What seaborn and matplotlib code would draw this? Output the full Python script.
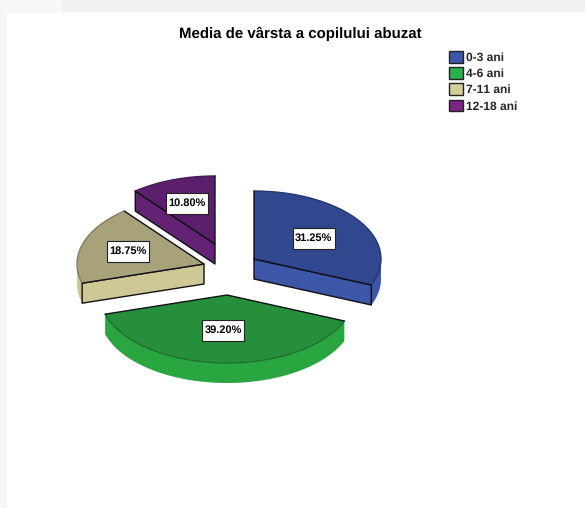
import numpy as np
import matplotlib
matplotlib.use("Agg")
import matplotlib.pyplot as plt
from matplotlib.patches import Polygon, Patch, Rectangle
import seaborn as sns

# Age groups and their shares of abused children
age_groups = ["0-3 ani", "4-6 ani", "7-11 ani", "12-18 ani"]
shares = [31.25, 39.20, 18.75, 10.80]
share_labels = ["31.25%", "39.20%", "18.75%", "10.80%"]
chart_title = "Media de vârsta a copilului abuzat"

# Colours: legend swatch, extruded wall, then the darker top surface
swatch_colors = sns.color_palette(["#3d56a8", "#2ab04a", "#d6cf97", "#7a2585"])
wall_colors = sns.color_palette(["#3d56a8", "#2aa641", "#cfc894", "#642274"])
top_colors = sns.color_palette(["#31478f", "#268f3c", "#a8a27b", "#5c1f6d"])

# Layout, in pixels: exploded slice apexes, ellipse radii, extrusion, label anchors
apexes = [(254, 259), (227, 295), (204, 264), (215, 244)]
RX, RY, DEPTH = 127, 68, 20
label_xy = [(313.5, 238), (223, 330), (127.5, 251), (187, 203)]
LABEL_W, LABEL_H = 42, 21

sns.set_theme(style="white")
plt.rcParams["font.family"] = ["Liberation Sans", "DejaVu Sans"]
plt.rcParams["text.hinting"] = "none"
plt.rcParams["text.hinting_factor"] = 1

fig = plt.figure(figsize=(5.85, 5.08), dpi=100, facecolor="white")
ax = fig.add_axes([0, 0, 1, 1])
ax.set_xlim(0, 585)
ax.set_ylim(508, 0)
ax.axis("off")

# Pale frame along the top and left edges of the page
ax.add_patch(Rectangle((62, 0), 523, 12, fc="#f1f1f1", ec="none", zorder=0))
ax.add_patch(Rectangle((0, 0), 62, 13, fc="#f8f8f8", ec="none", zorder=0))
ax.add_patch(Rectangle((0, 13), 7, 495, fc="#f6f6f6", ec="none", zorder=0))


def rim(apex, a0, a1):
    """Points on the slice's outer arc; angles run clockwise from 12 o'clock."""
    th = np.radians(np.linspace(a0, a1, max(int(abs(a1 - a0)) * 2, 2)))
    return np.column_stack([apex[0] + RX * np.sin(th), apex[1] - RY * np.cos(th)])


def radial_wall(apex, angle, color, z):
    p = rim(apex, angle, angle)[0]
    ax.add_patch(Polygon(
        [apex, p, (p[0], p[1] + DEPTH), (apex[0], apex[1] + DEPTH)],
        fc=color, ec="#101018", lw=1.0, joinstyle="round", zorder=z))


edges = np.concatenate([[0], np.cumsum(shares)]) / sum(shares) * 360
for i, (a0, a1) in enumerate(zip(edges[:-1], edges[1:])):
    apex = apexes[i]
    z = 2 + i * 0.01

    # Outer wall, only where the rim faces the viewer
    f0, f1 = max(a0, 90), min(a1, 270)
    if f1 > f0:
        arc = rim(apex, f0, f1)
        wall = np.vstack([arc, arc[::-1] + [0, DEPTH]])
        ax.add_patch(Polygon(wall, fc=wall_colors[i], ec="none", zorder=z))

    # Cut faces turned towards the viewer
    if np.sin(np.radians(a0)) < -1e-6:
        radial_wall(apex, a0, wall_colors[i], z)
    if np.sin(np.radians(a1)) > 1e-6:
        radial_wall(apex, a1, wall_colors[i], z)

    # Top surface, with a soft dark arc and black radial edges
    arc = rim(apex, a0, a1)
    ax.add_patch(Polygon(np.vstack([[apex], arc]), fc=top_colors[i],
                         ec="none", zorder=z + 0.1))
    ax.plot(arc[:, 0], arc[:, 1], color=tuple(c * 0.78 for c in top_colors[i]),
            lw=1.0, zorder=z + 0.2)
    ax.plot([arc[0, 0], apex[0], arc[-1, 0]], [arc[0, 1], apex[1], arc[-1, 1]],
            color="#101018", lw=1.0, zorder=z + 0.2)

# Percentage labels in white boxes
for (x, y), txt in zip(label_xy, share_labels):
    ax.add_patch(Rectangle((x - LABEL_W / 2, y - LABEL_H / 2), LABEL_W, LABEL_H,
                           fc="white", ec="#222222", lw=0.8, zorder=5))
    ax.text(x, y + 0.5, txt, ha="center", va="center", fontsize=8, fontweight="bold",
            color="black", zorder=6)

ax.text(300.5, 34, chart_title, ha="center", va="center", fontsize=10.7,
        fontweight="bold", color="black")

handles = [Patch(fc=c, ec="#222222", lw=1.0) for c in swatch_colors]
ax.legend(handles, age_groups, loc="upper left",
          bbox_to_anchor=(447 / 585, 1 - 49 / 508), frameon=False,
          prop=dict(family="Liberation Sans", weight="bold", size=8.6),
          handlelength=1.15, handleheight=1.15, handletextpad=0.25,
          labelspacing=0.32, borderpad=0.15, borderaxespad=0)

fig.savefig("out.png", dpi=100)
